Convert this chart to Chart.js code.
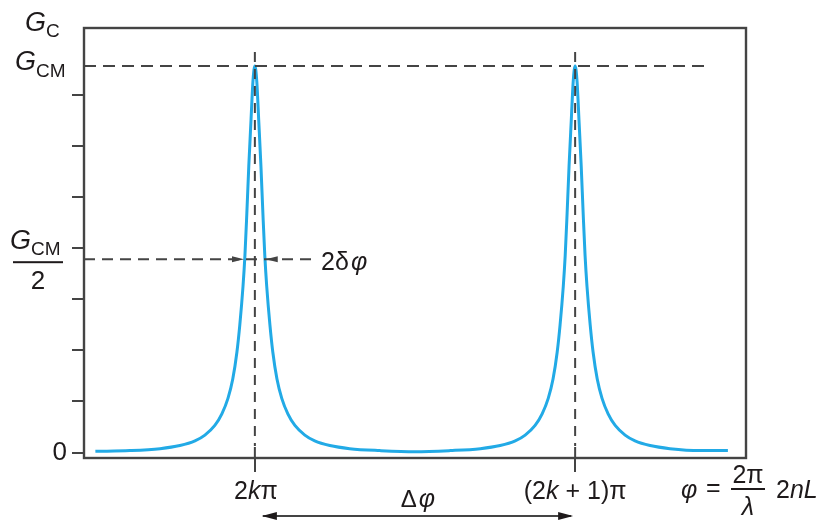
<!DOCTYPE html>
<html>
<head>
<meta charset="utf-8">
<script src="https://cdn.jsdelivr.net/npm/chart.js@4.4.0/dist/chart.umd.min.js"></script>
<style>
  html, body { margin: 0; padding: 0; background: #fff; }
</style>
</head>
<body>
<canvas id="myChart" width="826" height="523"></canvas>
<script>
// phase in units of the peak spacing: 0 = 2kπ, 1 = (2k+1)π
const phase = [
  -0.498, -0.39, -0.296, -0.234, -0.187, -0.156, -0.125, -0.103, -0.084, -0.069,
  -0.056, -0.047, -0.037, -0.031, -0.025, -0.019, -0.012, -0.006, 0,
  0.006, 0.012, 0.019, 0.025, 0.031, 0.037, 0.047, 0.056, 0.069, 0.084,
  0.103, 0.125, 0.156, 0.187, 0.234, 0.296, 0.39, 0.5,
  0.61, 0.704, 0.766, 0.813, 0.844, 0.875, 0.897, 0.916, 0.931,
  0.944, 0.953, 0.963, 0.969, 0.975, 0.981, 0.988, 0.994, 1,
  1.006, 1.012, 1.019, 1.025, 1.031, 1.037, 1.047, 1.056, 1.069, 1.084,
  1.103, 1.125, 1.156, 1.187, 1.234, 1.296, 1.39, 1.477
];
// gain relative to G_CM
const gain = [
  0.003, 0.005, 0.01, 0.018, 0.03, 0.045, 0.07, 0.10, 0.14, 0.19,
  0.26, 0.33, 0.43, 0.51, 0.62, 0.74, 0.86, 0.96, 1.0,
  0.96, 0.86, 0.74, 0.62, 0.51, 0.43, 0.33, 0.26, 0.19, 0.14,
  0.10, 0.07, 0.045, 0.03, 0.018, 0.01, 0.005, 0.002,
  0.005, 0.01, 0.018, 0.03, 0.045, 0.07, 0.10, 0.14, 0.19,
  0.26, 0.33, 0.43, 0.51, 0.62, 0.74, 0.86, 0.96, 1.0,
  0.96, 0.86, 0.74, 0.62, 0.51, 0.43, 0.33, 0.26, 0.19, 0.14,
  0.10, 0.07, 0.045, 0.03, 0.018, 0.01, 0.005, 0.005
];
const yTicks = [0, 0.132, 0.264, 0.396, 0.528, 0.661, 0.793, 0.925];
const xTicks = [0, 1];
const gainPeak = 1;
const gainHalf = 0.5;
const halfWidth = 0.034;

const ink = '#1e1a1b';
const axisCol = '#444';
const fam = '"Liberation Sans", Arial, sans-serif';

// draws a row of text pieces: [text, size, italic, dy]
function rich(ctx, parts, x, y, align) {
  let w = 0;
  parts.forEach(p => {
    ctx.font = (p[2] ? 'italic ' : '') + p[1] + 'px ' + fam;
    w += ctx.measureText(p[0]).width;
  });
  let cx = align === 'center' ? x - w / 2 : (align === 'right' ? x - w : x);
  ctx.textAlign = 'left';
  ctx.textBaseline = 'middle';
  ctx.fillStyle = ink;
  parts.forEach(p => {
    ctx.font = (p[2] ? 'italic ' : '') + p[1] + 'px ' + fam;
    ctx.fillText(p[0], cx, y + (p[3] || 0));
    cx += ctx.measureText(p[0]).width;
  });
}

function arrowHead(ctx, tipX, tipY, dir, len, half) {
  ctx.beginPath();
  ctx.moveTo(tipX, tipY);
  ctx.lineTo(tipX - dir * len, tipY - half);
  ctx.lineTo(tipX - dir * len, tipY + half);
  ctx.closePath();
  ctx.fill();
}

function line(ctx, x1, y1, x2, y2, dash) {
  ctx.setLineDash(dash || []);
  ctx.beginPath();
  ctx.moveTo(x1, y1);
  ctx.lineTo(x2, y2);
  ctx.stroke();
  ctx.setLineDash([]);
}

const extras = {
  id: 'extras',
  afterDatasetsDraw(chart) {
    const ctx = chart.ctx;
    const a = chart.chartArea;
    const xs = chart.scales.x, ys = chart.scales.y;
    const yPeak = ys.getPixelForValue(gainPeak);
    const yHalf = ys.getPixelForValue(gainHalf);
    const x0 = xs.getPixelForValue(xTicks[0]);
    const x1 = xs.getPixelForValue(xTicks[1]);

    ctx.save();
    ctx.strokeStyle = axisCol;
    ctx.fillStyle = axisCol;
    ctx.lineWidth = 2.4;

    // frame
    ctx.strokeRect(a.left, a.top, a.right - a.left, a.bottom - a.top);
    ctx.lineWidth = 2;

    // G_CM level and half level
    line(ctx, a.left, yPeak, 710, yPeak, [12, 7]);
    line(ctx, a.left, yHalf, 318, yHalf, [11, 7]);

    // verticals through the peaks
    [x0, x1].forEach(x => {
      line(ctx, x, 52, x, a.bottom - 12, [10, 7]);
      line(ctx, x, a.bottom - 11, x, a.bottom);
    });

    // 2δφ arrows
    const lTip = xs.getPixelForValue(-halfWidth);
    const rTip = xs.getPixelForValue(halfWidth);
    arrowHead(ctx, lTip, yHalf, 1, 12, 3);
    arrowHead(ctx, rTip, yHalf, -1, 12, 3);

    // Δφ arrow
    const ay = 516;
    line(ctx, x0 + 8, ay, x1 - 4, ay);
    ctx.fillStyle = ink;
    arrowHead(ctx, x0 + 7, ay, -1, 15, 4);
    arrowHead(ctx, x1 - 2, ay, 1, 15, 4);

    // left labels
    rich(ctx, [['G', 27, true], ['C', 19, false, 9]], 25, 23);
    rich(ctx, [['G', 27, true], ['CM', 19, false, 9]], 15, yPeak - 3);
    rich(ctx, [['G', 27, true], ['CM', 19, false, 9]], 10, yHalf - 18);
    ctx.fillStyle = ink;
    ctx.fillRect(13, yHalf + 2, 50, 2);
    rich(ctx, [['2', 26, false]], 38, yHalf + 23, 'center');

    // 2δφ
    rich(ctx, [['2δ', 25, false], [' ', 8, false], ['φ', 25, true]], 321, yHalf + 4);

    // x labels
    const ly = 492;
    rich(ctx, [['2', 25, false], ['k', 25, true], ['π', 25, false]], x0 + 1, ly, 'center');
    rich(ctx, [['(2', 25, false], ['k', 25, true], [' + 1)π', 25, false]], x1, ly, 'center');
    rich(ctx, [['Δ', 24, false], [' ', 7, false], ['φ', 25, true]], (x0 + x1) / 2 + 3, 500, 'center');

    // φ = 2π/λ 2nL
    rich(ctx, [['φ', 25, true]], 681, 491);
    rich(ctx, [['=', 25, false]], 706, 489);
    rich(ctx, [['2π', 25, false]], 748, 476, 'center');
    ctx.fillRect(731, 488, 34, 2);
    rich(ctx, [['λ', 25, true]], 748, 508, 'center');
    rich(ctx, [['2', 25, false], ['nL', 25, true]], 776, 491);

    ctx.restore();
  }
};

new Chart(document.getElementById('myChart').getContext('2d'), {
  type: 'line',
  data: {
    datasets: [{
      data: phase.map((p, i) => ({ x: p, y: gain[i] })),
      borderColor: '#22aae6',
      borderWidth: 3,
      pointRadius: 0,
      fill: false,
      cubicInterpolationMode: 'monotone'
    }]
  },
  options: {
    responsive: false,
    animation: false,
    events: [],
    layout: { padding: { top: 28, right: 80, left: 0, bottom: 0 } },
    plugins: { legend: { display: false }, tooltip: { enabled: false } },
    scales: {
      x: {
        type: 'linear',
        min: -0.5335,
        max: 1.5335,
        afterBuildTicks: s => { s.ticks = xTicks.map(v => ({ value: v })); },
        afterFit: s => { s.height = 65; },
        border: { display: false },
        grid: { drawOnChartArea: false, drawTicks: true, tickLength: 14, color: axisCol, lineWidth: 2 },
        ticks: { callback: () => '', padding: 0 }
      },
      y: {
        min: -0.0142,
        max: 1.098,
        afterBuildTicks: s => { s.ticks = yTicks.map(v => ({ value: v })); },
        afterFit: s => { s.width = 84; },
        border: { display: false },
        grid: { drawOnChartArea: false, drawTicks: true, tickLength: 12, color: axisCol, lineWidth: 2 },
        ticks: {
          callback: v => (v === 0 ? '0' : ''),
          padding: 5,
          color: ink,
          font: { family: fam, size: 26 }
        }
      }
    }
  },
  plugins: [extras]
});
</script>
</body>
</html>
